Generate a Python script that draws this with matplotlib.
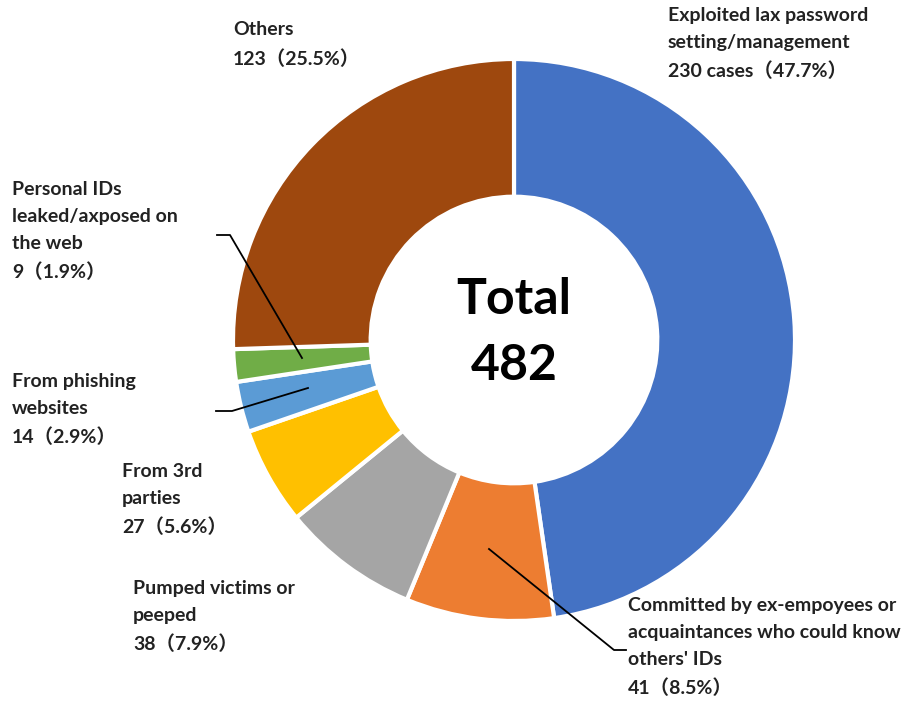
import matplotlib

matplotlib.use("Agg")
import matplotlib.pyplot as plt

plt.rcParams["font.family"] = ["Lato", "Noto Sans CJK JP", "DejaVu Sans"]

# counts per cause, clockwise from 12 o'clock
causes = [
    "Exploited lax password\nsetting/management",
    "Committed by ex-empoyees or\nacquaintances who could know\nothers' IDs",
    "Pumped victims or\npeeped",
    "From 3rd\nparties",
    "From phishing\nwebsites",
    "Personal IDs\nleaked/axposed on\nthe web",
    "Others",
]
counts = [230, 41, 38, 27, 14, 9, 123]
shares = [47.7, 8.5, 7.9, 5.6, 2.9, 1.9, 25.5]
colors = ["#4472C4", "#ED7D31", "#A5A5A5", "#FFC000", "#5B9BD5", "#70AD47", "#9E480E"]
total = sum(counts)

W, H = 915, 701
fig = plt.figure(figsize=(W / 100, H / 100), dpi=100)
ax = fig.add_axes([0, 0, 1, 1])


def py(y):
    # pixel rows are counted from the top
    return H - y


cx, cy, R = 514, py(340), 281
ax.pie(counts, colors=colors, startangle=90, counterclock=False,
       center=(cx, cy), radius=R, frame=True,
       wedgeprops=dict(width=R * 0.49, edgecolor="white", linewidth=3))
ax.set_xlim(0, W)
ax.set_ylim(0, H)
ax.set_aspect("equal")
ax.axis("off")

ax.text(cx, py(300), "Total", ha="center", va="center", fontsize=36,
        fontweight="bold", color="black")
ax.text(cx, py(366), str(total), ha="center", va="center", fontsize=36,
        fontweight="bold", color="black")

tc = "#222222"
label_pos = [(668, 7), (628, 597), (133, 580), (122, 463), (12, 373), (12, 181), (233, 21)]
for i, (name, n, s) in enumerate(zip(causes, counts, shares)):
    x, y = label_pos[i]
    num = f"{n} cases（{s}%）" if i == 0 else f"{n}（{s}%）"
    ax.text(x, py(y), name + "\n" + num, ha="left", va="top", fontsize=14,
            fontweight="bold", color=tc, linespacing=1.7)

# leader lines for the small slices
leaders = [
    [(489, 549), (614, 650), (626, 650)],
    [(302, 358), (230, 235), (217, 235)],
    [(308, 388), (232, 411), (216, 411)],
]
for pts in leaders:
    ax.plot([p[0] for p in pts], [py(p[1]) for p in pts], color="black", lw=1.3)

fig.savefig("out.png", dpi=100)
